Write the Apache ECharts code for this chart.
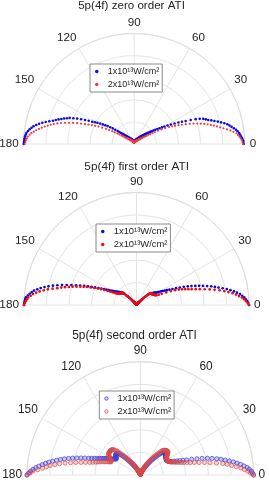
<!DOCTYPE html>
<html><head><meta charset="utf-8">
<script src="https://cdn.jsdelivr.net/npm/echarts/dist/echarts.min.js"></script>
<style>html,body{margin:0;padding:0;background:#fff}#c{width:269px;height:483px}</style>
</head><body><div id="c"></div>
<script>
// Angles (degrees) at which the distributions are sampled: 0..180
const angles = [0,1,2,3,4,5,6,7,8,9,10,11,12,13,14,15,16,17,18,19,20,21,22,23,24,25,26,27,28,29,30,31,32,33,34,35,36,37,38,39,
  40,41,42,43,44,45,46,47,48,49,50,51,52,53,54,55,56,57,58,59,60,61,62,63,64,65,66,67,68,69,70,71,72,73,74,75,76,77,78,79,
  80,81,82,83,84,85,86,87,88,89,90,91,92,93,94,95,96,97,98,99,100,101,102,103,104,105,106,107,108,109,110,111,112,113,114,115,116,117,118,119,
  120,121,122,123,124,125,126,127,128,129,130,131,132,133,134,135,136,137,138,139,140,141,142,143,144,145,146,147,148,149,150,151,152,153,154,155,156,157,158,159,
  160,161,162,163,164,165,166,167,168,169,170,171,172,173,174,175,176,177,178,179,180];
const seriesNames = ['1x10\u00b9\u00b3W/cm\u00b2', '2x10\u00b9\u00b3W/cm\u00b2'];
const titles = ['5p(4f) zero order ATI', '5p(4f) first order ATI', '5p(4f) second order ATI'];
const angleTicks = [0, 30, 60, 90, 120, 150, 180];

// zero order ATI (normalised yield vs angle)
const zeroLow = [0.99,0.988,0.985,0.978,0.97,0.963,0.955,0.943,0.93,0.913,0.895,0.879,0.862,0.837,0.81,0.783,0.755,0.73,0.705,0.685,
  0.665,0.635,0.60,0.555,0.51,0.477,0.445,0.41,0.375,0.345,0.315,0.292,0.27,0.25,0.23,0.212,0.195,0.182,0.17,0.16,
  0.15,0.14,0.13,0.122,0.115,0.107,0.10,0.095,0.09,0.085,0.08,0.076,0.072,0.068,0.065,0.062,0.06,0.057,0.055,0.052,
  0.05,0.048,0.046,0.044,0.042,0.04,0.039,0.037,0.036,0.034,0.033,0.032,0.031,0.03,0.029,0.028,0.027,0.026,0.025,0.024,
  0.024,0.023,0.023,0.022,0.022,0.021,0.021,0.02,0.02,0.02,0.02,
  0.02,0.02,0.02,0.021,0.021,0.022,0.022,0.023,0.023,0.024,0.025,0.026,0.026,0.027,0.028,0.029,0.03,0.031,0.032,0.033,
  0.034,0.035,0.036,0.038,0.039,0.041,0.042,0.044,0.046,0.048,0.05,0.052,0.054,0.056,0.058,0.061,0.064,0.067,0.07,0.074,
  0.078,0.082,0.088,0.095,0.102,0.11,0.12,0.13,0.142,0.155,0.172,0.19,0.215,0.24,0.265,0.29,0.312,0.335,0.36,0.385,
  0.407,0.43,0.462,0.495,0.53,0.565,0.598,0.63,0.652,0.675,0.697,0.72,0.742,0.765,0.795,0.825,0.853,0.88,0.903,0.925,
  0.94,0.955,0.968,0.98,0.985,0.99,0.993,0.995,0.998,1.0];
const zeroHigh = [0.985,0.98,0.975,0.965,0.955,0.943,0.93,0.905,0.88,0.85,0.82,0.792,0.765,0.74,0.715,0.688,0.66,0.63,0.60,0.567,
  0.535,0.50,0.465,0.435,0.405,0.378,0.35,0.315,0.28,0.247,0.215,0.192,0.17,0.152,0.135,0.122,0.11,0.1,0.092,0.086,
  0.08,0.075,0.07,0.066,0.062,0.058,0.055,0.052,0.05,0.048,0.046,0.044,0.042,0.04,0.039,0.037,0.036,0.035,0.034,0.033,
  0.032,0.031,0.03,0.029,0.028,0.027,0.026,0.025,0.025,0.024,0.024,0.023,0.022,0.021,0.021,0.02,0.02,0.019,0.019,0.018,
  0.018,0.017,0.017,0.016,0.016,0.016,0.016,0.015,0.015,0.015,0.015,
  0.015,0.015,0.015,0.016,0.016,0.016,0.016,0.017,0.017,0.018,0.018,0.019,0.019,0.02,0.02,0.021,0.021,0.022,0.023,0.024,
  0.024,0.025,0.025,0.026,0.027,0.028,0.029,0.03,0.031,0.032,0.033,0.034,0.035,0.037,0.038,0.04,0.041,0.043,0.045,0.047,
  0.049,0.051,0.053,0.056,0.059,0.062,0.066,0.07,0.075,0.08,0.086,0.092,0.1,0.11,0.125,0.14,0.16,0.18,0.205,0.23,
  0.26,0.29,0.325,0.36,0.39,0.42,0.45,0.48,0.515,0.55,0.585,0.62,0.655,0.69,0.72,0.75,0.775,0.80,0.825,0.85,
  0.873,0.895,0.915,0.935,0.95,0.965,0.973,0.98,0.985,0.99];

// first order ATI
const firstLow = [1.0,0.993,0.985,0.973,0.96,0.943,0.925,0.9,0.875,0.845,0.815,0.78,0.745,0.715,0.685,0.65,0.615,0.582,0.55,0.517,
  0.485,0.45,0.415,0.382,0.35,0.323,0.30,0.282,0.265,0.25,0.235,0.222,0.21,0.202,0.195,0.187,0.18,0.175,0.17,0.165,
  0.16,0.152,0.14,0.123,0.105,0.087,0.07,0.057,0.045,0.038,0.032,0.029,0.026,0.024,0.022,0.02,0.019,0.018,0.017,0.016,
  0.015,0.015,0.014,0.014,0.013,0.013,0.012,0.012,0.012,0.011,0.011,0.011,0.011,0.01,0.01,0.01,0.01,0.01,0.01,0.01,
  0.01,0.01,0.01,0.01,0.01,0.01,0.01,0.01,0.01,0.01,0.01,
  0.01,0.01,0.01,0.01,0.01,0.01,0.01,0.01,0.01,0.01,0.01,0.01,0.01,0.01,0.01,0.01,0.01,0.011,0.011,0.011,
  0.011,0.012,0.012,0.012,0.013,0.013,0.014,0.014,0.015,0.015,0.016,0.017,0.018,0.02,0.021,0.023,0.025,0.027,0.03,0.033,
  0.04,0.048,0.06,0.075,0.092,0.11,0.13,0.15,0.162,0.17,0.175,0.18,0.187,0.195,0.202,0.21,0.22,0.23,0.24,0.25,
  0.265,0.28,0.3,0.32,0.345,0.37,0.4,0.43,0.462,0.495,0.53,0.565,0.605,0.645,0.685,0.725,0.762,0.80,0.833,0.865,
  0.893,0.92,0.938,0.955,0.97,0.985,0.99,0.995,0.998,1.0];
const firstHigh = [1.0,0.988,0.975,0.958,0.94,0.915,0.89,0.86,0.825,0.79,0.75,0.707,0.665,0.622,0.58,0.545,0.51,0.482,0.455,0.428,
  0.40,0.367,0.33,0.287,0.245,0.218,0.198,0.192,0.188,0.184,0.18,0.177,0.175,0.172,0.17,0.169,0.168,0.167,0.166,0.165,
  0.164,0.15,0.13,0.11,0.09,0.072,0.055,0.045,0.035,0.03,0.025,0.022,0.02,0.018,0.017,0.016,0.015,0.015,0.014,0.014,
  0.013,0.013,0.012,0.012,0.012,0.011,0.011,0.011,0.011,0.01,0.01,0.01,0.01,0.01,0.01,0.01,0.01,0.01,0.01,0.01,
  0.01,0.01,0.01,0.01,0.01,0.01,0.01,0.01,0.01,0.01,0.01,
  0.01,0.01,0.01,0.01,0.01,0.01,0.01,0.01,0.01,0.01,0.01,0.01,0.01,0.01,0.01,0.01,0.01,0.01,0.01,0.01,
  0.011,0.011,0.011,0.011,0.012,0.012,0.012,0.012,0.013,0.013,0.014,0.015,0.016,0.017,0.018,0.02,0.023,0.026,0.03,0.035,
  0.042,0.05,0.067,0.085,0.105,0.125,0.145,0.16,0.164,0.166,0.167,0.168,0.17,0.172,0.176,0.18,0.185,0.19,0.197,0.205,
  0.222,0.24,0.262,0.285,0.315,0.345,0.375,0.405,0.437,0.47,0.497,0.525,0.557,0.59,0.622,0.655,0.687,0.72,0.76,0.8,
  0.835,0.87,0.898,0.925,0.945,0.965,0.975,0.985,0.993,1.0];

// second order ATI
const secondLow = [1.0,0.99,0.98,0.963,0.945,0.918,0.89,0.86,0.83,0.795,0.76,0.725,0.69,0.65,0.61,0.565,0.52,0.475,0.43,0.398,
  0.37,0.346,0.325,0.306,0.29,0.282,0.275,0.271,0.268,0.266,0.265,0.266,0.268,0.27,0.273,0.275,0.278,0.28,0.283,0.285,
  0.287,0.288,0.288,0.287,0.285,0.279,0.27,0.256,0.24,0.222,0.205,0.19,0.175,0.16,0.145,0.132,0.12,0.11,0.1,0.09,
  0.08,0.072,0.065,0.058,0.052,0.047,0.042,0.038,0.034,0.031,0.028,0.026,0.024,0.022,0.021,0.019,0.018,0.017,0.016,0.015,
  0.014,0.013,0.013,0.012,0.012,0.011,0.011,0.01,0.01,0.009,0.008,
  0.009,0.01,0.01,0.01,0.011,0.011,0.012,0.012,0.013,0.013,0.014,0.014,0.015,0.016,0.017,0.018,0.019,0.021,0.023,0.025,
  0.027,0.03,0.033,0.036,0.04,0.044,0.049,0.054,0.06,0.066,0.074,0.082,0.091,0.1,0.112,0.125,0.137,0.15,0.165,0.18,
  0.197,0.215,0.233,0.25,0.263,0.275,0.28,0.285,0.284,0.283,0.279,0.275,0.268,0.262,0.258,0.255,0.26,0.265,0.275,0.285,
  0.297,0.31,0.322,0.335,0.347,0.36,0.375,0.39,0.41,0.43,0.454,0.478,0.512,0.545,0.58,0.615,0.65,0.685,0.718,0.75,
  0.783,0.815,0.843,0.87,0.898,0.925,0.948,0.97,0.985,1.0];
const secondHigh = [1.0,0.975,0.95,0.92,0.89,0.85,0.81,0.772,0.735,0.68,0.625,0.577,0.53,0.49,0.455,0.427,0.4,0.38,0.36,0.345,
  0.33,0.317,0.305,0.296,0.288,0.283,0.278,0.275,0.272,0.271,0.27,0.271,0.272,0.276,0.28,0.286,0.292,0.299,0.306,0.312,
  0.318,0.319,0.318,0.315,0.312,0.308,0.303,0.297,0.29,0.273,0.255,0.238,0.22,0.202,0.185,0.17,0.155,0.14,0.125,0.112,
  0.1,0.09,0.08,0.071,0.063,0.056,0.05,0.045,0.04,0.036,0.032,0.029,0.026,0.024,0.022,0.02,0.019,0.017,0.016,0.015,
  0.014,0.013,0.012,0.012,0.011,0.011,0.01,0.01,0.009,0.009,0.008,
  0.009,0.009,0.009,0.009,0.01,0.01,0.011,0.011,0.012,0.012,0.013,0.014,0.015,0.016,0.017,0.018,0.02,0.021,0.023,0.025,
  0.028,0.031,0.034,0.038,0.043,0.048,0.054,0.06,0.067,0.075,0.085,0.095,0.107,0.12,0.132,0.145,0.16,0.175,0.192,0.21,
  0.23,0.25,0.27,0.29,0.306,0.32,0.328,0.335,0.337,0.338,0.339,0.34,0.34,0.34,0.338,0.336,0.332,0.328,0.322,0.315,
  0.308,0.3,0.292,0.285,0.284,0.285,0.296,0.31,0.325,0.34,0.357,0.375,0.392,0.41,0.435,0.46,0.497,0.535,0.58,0.625,
  0.672,0.72,0.76,0.8,0.832,0.865,0.907,0.95,0.975,1.0];

const FONT = "'Liberation Sans', Arial, Helvetica, sans-serif";
const panels = [
  { cx: 134.2, cy: 144, r: 110.5, fs: 11.6, tx: 131.5, ty: 0, lx: 90, ly: 64, lfs: 9, data: [zeroLow, zeroHigh],
    style: [{ size: 2.6, color: '#0a0ae6' }, { size: 2.2, color: '#f03c3c' }] },
  { cx: 136.5, cy: 305, r: 112.5, fs: 11.8, tx: 136.7, ty: 161, lx: 96, ly: 224, lfs: 9.4, data: [firstLow, firstHigh],
    style: [{ size: 2.7, color: '#0808e0' }, { size: 2.7, color: '#ee0c0c' }] },
  { cx: 140.3, cy: 475, r: 113.3, fs: 11.9, tx: 134.5, ty: 329.5, lx: 99.3, ly: 391, lfs: 9.4, data: [secondLow, secondHigh],
    style: [{ size: 4.2, color: 'rgba(80,80,225,0.3)', border: 'rgba(60,60,215,0.85)' },
            { size: 4.2, color: 'rgba(220,90,90,0.28)', border: 'rgba(215,70,70,0.8)' }] }
];

[zeroLow, zeroHigh, firstLow, firstHigh, secondLow, secondHigh].forEach((a, i) => {
  if (a.length !== angles.length) throw new Error('length mismatch in series ' + i + ': ' + a.length);
});

const option = {
  animation: false,
  backgroundColor: '#fff',
  title: panels.map((p, i) => ({
    text: titles[i], left: p.tx, top: p.ty, textAlign: 'center', padding: 0,
    textStyle: { fontSize: p.fs, fontWeight: 'normal', color: '#262626', fontFamily: FONT }
  })),
  polar: panels.map(p => ({ center: [p.cx, p.cy], radius: p.r })),
  angleAxis: panels.map((p, i) => ({
    polarIndex: i, type: 'value', min: 0, max: 180, interval: 30,
    startAngle: 0, endAngle: 180, clockwise: false,
    axisLine: { show: true, lineStyle: { color: '#dedede', width: 1 } },
    axisTick: { show: false },
    axisLabel: { show: true, margin: 5, color: '#262626', fontSize: p.fs, fontFamily: FONT,
      formatter: v => angleTicks.indexOf(v) >= 0 ? String(v) : '' },
    splitLine: { show: true, lineStyle: { color: '#e4e4e4', width: 1 } }
  })),
  radiusAxis: panels.map((p, i) => ({
    polarIndex: i, type: 'value', min: 0, max: 1, interval: 0.2,
    axisLine: { show: false }, axisTick: { show: false }, axisLabel: { show: false },
    splitLine: { show: true, lineStyle: { color: '#e4e4e4', width: 1 } }
  })),
  legend: panels.map((p, i) => ({
    orient: 'vertical', left: p.lx, top: p.ly, padding: [3, 3, 3, 5], itemGap: 4,
    itemWidth: 12, itemHeight: 3.5, selectedMode: false,
    backgroundColor: '#fff', borderColor: '#8a8a8a', borderWidth: 1, borderRadius: 0,
    textStyle: { fontSize: p.lfs, color: '#262626', fontFamily: FONT },
    data: seriesNames.map((n, k) => ({
      name: n, icon: 'circle',
      itemStyle: { color: p.style[k].color, borderColor: p.style[k].border || p.style[k].color,
        borderWidth: p.style[k].border ? 0.8 : 0 }
    }))
  })),
  series: panels.flatMap((p, i) => p.data.map((arr, k) => ({
    type: 'scatter', name: seriesNames[k], coordinateSystem: 'polar', polarIndex: i,
    symbol: 'circle', symbolSize: p.style[k].size, silent: true,
    itemStyle: { color: p.style[k].color, borderColor: p.style[k].border || p.style[k].color,
      borderWidth: p.style[k].border ? 0.8 : 0, opacity: 1 },
    data: arr.map((r, j) => [r, angles[j]])
  })))
};
const chart = echarts.init(document.getElementById('c'), null, { renderer: 'canvas' });
chart.setOption(option);
</script></body></html>
